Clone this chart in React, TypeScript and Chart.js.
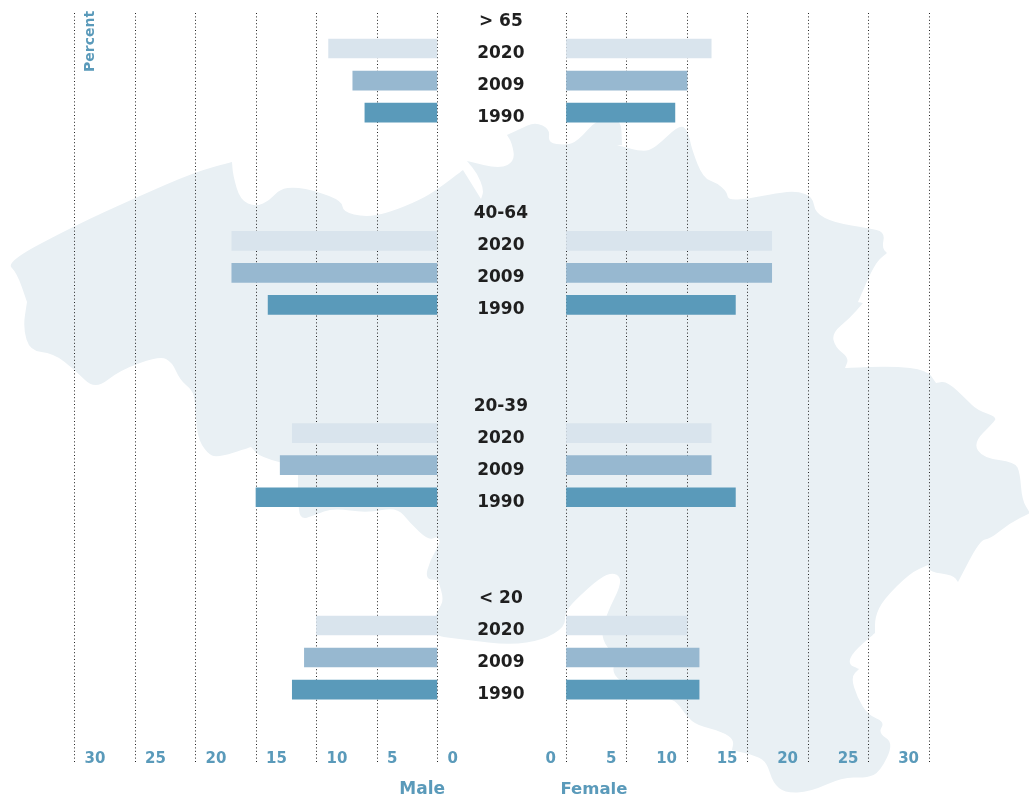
import React, { useEffect, useRef } from "react";
import { Chart, registerables } from "chart.js";

Chart.register(...registerables);

const ageGroups = ["> 65", "40-64", "20-39", "< 20"];
const years = ["2020", "2009", "1990"];
const male2020 = [9, 17, 12, 10];
const male2009 = [7, 17, 13, 11];
const male1990 = [6, 14, 15, 12];
const female2020 = [12, 17, 12, 10];
const female2009 = [10, 17, 12, 11];
const female1990 = [9, 14, 14, 11];
const yearColors = ["#d9e4ed", "#97b8d0", "#5a9aba"];
const BLUE = "#5a9aba";
const INK = "#1f1f1f";
const MAP_FILL = "#e9f0f4";
const FONT = "'DejaVu Sans'";

const ROWS_PER_GROUP = 6;
const rowLabels: Record<number, string> = {};
ageGroups.forEach((g, i) => {
  rowLabels[i * ROWS_PER_GROUP] = g;
  years.forEach((y, j) => {
    rowLabels[i * ROWS_PER_GROUP + j + 1] = y;
  });
});
const rowValues = Object.keys(rowLabels).map(Number);

const outline: number[][] = [
  [6, 262], [74, 226], [135, 198], [195, 172], [232, 162], [232, 162], [233, 175], [240, 200], [256, 207], [270, 200], [280, 189],
  [295, 187], [316, 191], [342, 201], [343, 212], [365, 217], [388, 213], [420, 200], [438, 189], [463, 170], [463, 170], [481, 199], [481, 199],
  [484, 190], [477, 173], [467, 161], [467, 161], [500, 169], [515, 161], [512, 143], [507, 135], [507, 135], [520, 129], [535, 122], [550, 129],
  [548, 143], [565, 145], [577, 142], [598, 118], [621, 118], [622, 145], [622, 145], [617, 145], [617, 145], [643, 152], [655, 148], [680, 124],
  [688, 131], [692, 150], [703, 178], [717, 183], [727, 192], [728, 200], [747, 199], [777, 193], [797, 191], [813, 197],
  [815, 213], [835, 223], [868, 228], [885, 232], [882, 248], [887, 253], [887, 253], [875, 263], [858, 302], [858, 302], [863, 303], [863, 303], [850, 318],
  [832, 333], [835, 347], [849, 358], [845, 368], [845, 368], [893, 366], [927, 370], [936, 383], [936, 383], [947, 381], [967, 400], [977, 410],
  [997, 417], [993, 423], [973, 443], [983, 458], [1015, 462], [1020, 473], [1022, 500], [1030, 513], [1030, 513], [1010, 523], [990, 539],
  [980, 540], [958, 582], [958, 582], [953, 575], [930, 572], [928, 565], [928, 565], [910, 573], [883, 600], [875, 617], [875, 633], [875, 633], [853, 652],
  [848, 664], [859, 669], [859, 669], [851, 677], [857, 697], [868, 715], [885, 722], [878, 733], [894, 743], [880, 772], [867, 778],
  [843, 777], [810, 792], [785, 793], [773, 783], [767, 763], [757, 756], [732, 750], [732, 750], [734, 740], [723, 732], [697, 725],
  [687, 717], [677, 702], [667, 698], [612, 680], [615, 657], [600, 637], [607, 613], [622, 583], [617, 573], [603, 575],
  [573, 602], [565, 613], [565, 627], [543, 640], [510, 645], [467, 640], [428, 635], [438, 610], [444, 600], [438, 580], [438, 580],
  [425, 579], [430, 560], [441, 542], [437, 537], [437, 537], [428, 540], [410, 523], [397, 507], [367, 513], [333, 508], [315, 515],
  [300, 520], [298, 500], [298, 467], [298, 467], [260, 457], [251, 447], [251, 447], [217, 458], [207, 453], [197, 437], [195, 400], [192, 390],
  [180, 380], [172, 362], [160, 356], [120, 370], [95, 390], [75, 370], [53, 353], [30, 351], [23, 328], [27, 302], [27, 302], [17, 273],
];

const mapPlugin = {
  id: "mapBackdrop",
  beforeDraw(chart: any) {
    const ctx = chart.ctx;
    const n = outline.length;
    ctx.save();
    ctx.fillStyle = MAP_FILL;
    ctx.beginPath();
    const mid = (a: number[], b: number[]) => [(a[0] + b[0]) / 2, (a[1] + b[1]) / 2];
    const s = mid(outline[n - 1], outline[0]);
    ctx.moveTo(s[0], s[1]);
    for (let i = 0; i < n; i++) {
      const m = mid(outline[i], outline[(i + 1) % n]);
      ctx.quadraticCurveTo(outline[i][0], outline[i][1], m[0], m[1]);
    }
    ctx.closePath();
    ctx.fill();
    ctx.restore();
  },
};

const maleCaptions = {
  id: "maleCaptions",
  afterDraw(chart: any) {
    const ctx = chart.ctx;
    const x = chart.scales.x;
    ctx.save();
    ctx.fillStyle = BLUE;
    ctx.textBaseline = "middle";
    ctx.font = `bold 17px ${FONT}`;
    ctx.textAlign = "right";
    ctx.fillText("Male", x.getPixelForValue(0) + 7.5, 790);
    ctx.translate(90, 72);
    ctx.rotate(-Math.PI / 2);
    ctx.textAlign = "left";
    ctx.font = `bold 14px ${FONT}`;
    ctx.fillText("Percent", 0, 0);
    ctx.restore();
  },
};

const femaleCaptions = {
  id: "femaleCaptions",
  afterDraw(chart: any) {
    const ctx = chart.ctx;
    const x = chart.scales.x;
    ctx.save();
    ctx.fillStyle = BLUE;
    ctx.textBaseline = "middle";
    ctx.textAlign = "left";
    ctx.font = `bold 16.5px ${FONT}`;
    ctx.fillText("Female", x.getPixelForValue(0) - 5.5, 790);
    ctx.restore();
  },
};

function toPoints(values: number[], yearIndex: number) {
  return values.map((v, i) => ({ x: v, y: i * ROWS_PER_GROUP + yearIndex + 1 }));
}

function makeDatasets(series: number[][]) {
  return series.map((values, j) => ({
    label: years[j],
    data: toPoints(values, j),
    backgroundColor: yearColors[j],
    borderWidth: 0,
    barThickness: 19,
    grouped: false,
  }));
}

function xAxis(reverse: boolean) {
  return {
    type: "linear",
    reverse,
    min: 0,
    max: 30,
    afterFit(s: any) {
      s.height = 0;
    },
    border: { display: false, dash: [1, 2.4] },
    grid: { color: "#222222", lineWidth: 1, drawTicks: false },
    ticks: {
      stepSize: 5,
      mirror: true,
      padding: -6,
      maxRotation: 0,
      autoSkip: false,
      align: reverse ? "start" : "end",
      labelOffset: reverse ? 10 : -10,
      color: BLUE,
      font: { family: FONT, weight: "bold", size: 15 },
    },
  };
}

function yBase() {
  return {
    type: "linear",
    reverse: true,
    offset: false,
    min: -0.108,
    max: 23.26,
    grid: { display: false, offset: false },
    border: { display: false },
    afterBuildTicks(s: any) {
      s.ticks = rowValues.map((value) => ({ value }));
    },
  };
}

export default function App() {
  const maleRef = useRef<HTMLCanvasElement>(null);
  const femaleRef = useRef<HTMLCanvasElement>(null);

  useEffect(() => {
    const common = {
      responsive: false,
      animation: false,
      indexAxis: "y",
      plugins: { legend: { display: false }, tooltip: { enabled: false }, title: { display: false } },
    };
    const male = new Chart(maleRef.current!, {
      type: "bar",
      data: { datasets: makeDatasets([male2020, male2009, male1990]) },
      plugins: [mapPlugin, maleCaptions],
      options: {
        ...common,
        layout: { padding: { left: 74.5, right: 591.5, top: 13, bottom: 37 } },
        scales: { x: xAxis(true), y: { ...yBase(), display: false } },
      },
    } as any);
    const female = new Chart(femaleRef.current!, {
      type: "bar",
      data: { datasets: makeDatasets([female2020, female2009, female1990]) },
      plugins: [femaleCaptions],
      options: {
        ...common,
        layout: { padding: { left: 438, right: 100, top: 13, bottom: 37 } },
        scales: {
          x: xAxis(false),
          y: {
            ...yBase(),
            afterFit(s: any) {
              s.width = 128;
              s.paddingTop = 0;
              s.paddingBottom = 0;
            },
            ticks: {
              autoSkip: false,
              crossAlign: "center",
              padding: 30,
              labelOffset: 5,
              color: INK,
              font: { family: FONT, weight: "bold", size: 17 },
              callback: (v: number) => rowLabels[v] ?? "",
            },
          },
        },
      },
    } as any);
    return () => {
      male.destroy();
      female.destroy();
    };
  }, []);

  const style: React.CSSProperties = { position: "absolute", left: 0, top: 0 };
  return (
    <div style={{ position: "absolute", left: 0, top: 0, width: 1029, height: 799, background: "#fff", overflow: "hidden" }}>
      <canvas ref={maleRef} width={1029} height={799} style={style} />
      <canvas ref={femaleRef} width={1029} height={799} style={style} />
    </div>
  );
}
